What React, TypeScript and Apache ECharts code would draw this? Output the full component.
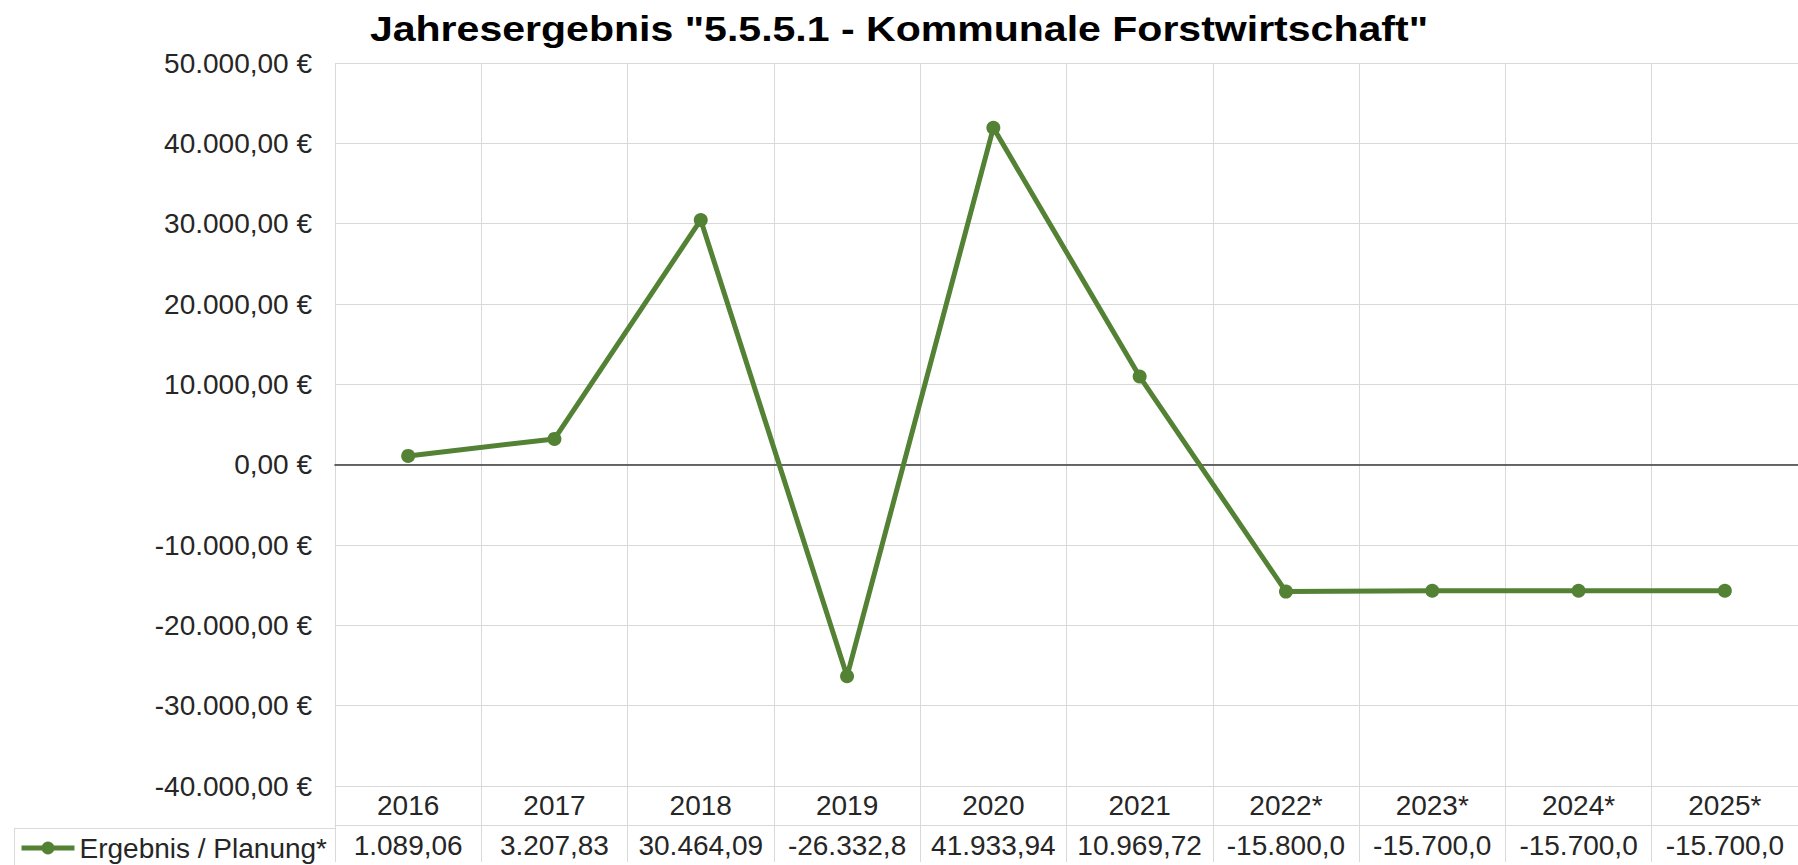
import React, { useEffect, useRef } from 'react';
import * as echarts from 'echarts';

const titleText = 'Jahresergebnis "5.5.5.1 - Kommunale Forstwirtschaft"';
const seriesName = 'Ergebnis / Planung*';
const categories = ['2016', '2017', '2018', '2019', '2020', '2021', '2022*', '2023*', '2024*', '2025*'];
const values = [1089.06, 3207.83, 30464.09, -26332.8, 41933.94, 10969.72, -15800, -15700, -15700, -15700];
const yMin = -40000;
const yMax = 50000;
const yStep = 10000;

const FONT = "'Liberation Sans', Arial, sans-serif";
const GRID = '#d9d9d9';
const GREEN = '#548235';
const TEXT = '#262626';

function fmtDE(v: number, digits = 2): string {
  const neg = v < 0;
  const s = Math.abs(v).toFixed(digits);
  const parts = s.split('.');
  const intG = parts[0].replace(/\B(?=(\d{3})+(?!\d))/g, '.');
  return (neg ? '-' : '') + intG + (parts[1] ? ',' + parts[1] : '');
}

function buildOption(): any {
  return {
    animation: false,
    textStyle: { fontFamily: FONT },
    grid: { left: 335, right: 0, top: 63, bottom: 76, containLabel: false },
    legend: {
      show: true,
      left: 19,
      top: 833,
      padding: 0,
      itemWidth: 53,
      itemHeight: 16,
      selectedMode: false,
      data: [seriesName],
      lineStyle: { width: 5, color: GREEN },
      itemStyle: { color: GREEN },
      textStyle: { fontSize: 28, color: TEXT, fontFamily: FONT, lineHeight: 30 },
    },
    xAxis: [
      {
        type: 'category',
        data: categories,
        position: 'bottom',
        boundaryGap: true,
        axisLine: { onZero: false, lineStyle: { color: GRID, width: 1 } },
        axisTick: { show: true, length: 76, interval: 0, inside: false, lineStyle: { color: GRID, width: 1 } },
        axisLabel: { interval: 0, margin: 0, fontSize: 28, color: TEXT, lineHeight: 39, fontFamily: FONT },
        splitLine: { show: true, interval: 0, lineStyle: { color: GRID, width: 1 } },
      },
      {
        type: 'category',
        data: categories,
        position: 'bottom',
        offset: 39,
        axisLine: { onZero: false, lineStyle: { color: GRID, width: 1 } },
        axisTick: { show: false },
        splitLine: { show: false },
        axisLabel: {
          interval: 0,
          margin: 0,
          fontSize: 28,
          color: TEXT,
          fontFamily: FONT,
          lineHeight: 40,
          width: 130,
          overflow: 'truncate',
          ellipsis: '',
          formatter: (_v: string, i: number) => fmtDE(values[i]),
        },
      },
      {
        type: 'category',
        data: categories,
        position: 'bottom',
        axisLine: { onZero: true, lineStyle: { color: '#3a3a3a', width: 1.6 } },
        axisTick: { show: false },
        axisLabel: { show: false },
        splitLine: { show: false },
      },
    ],
    yAxis: {
      type: 'value',
      min: yMin,
      max: yMax,
      interval: yStep,
      axisLine: { show: false },
      axisTick: { show: false },
      splitLine: { show: true, lineStyle: { color: GRID, width: 1 } },
      axisLabel: {
        formatter: (v: number) => fmtDE(v) + ' €',
        fontSize: 28,
        color: TEXT,
        fontFamily: FONT,
        margin: 23,
      },
    },
    series: [
      {
        type: 'line',
        name: seriesName,
        data: values,
        xAxisIndex: 0,
        yAxisIndex: 0,
        symbol: 'circle',
        symbolSize: 14,
        lineStyle: { color: GREEN, width: 5 },
        itemStyle: { color: GREEN },
        z: 5,
      },
    ],
    graphic: [
      {
        type: 'text',
        x: 899,
        y: 28,
        scaleX: 1.14,
        style: {
          text: titleText,
          fontSize: 36,
          fontWeight: 'bold',
          fontFamily: FONT,
          fill: '#000000',
          align: 'center',
          verticalAlign: 'middle',
        },
      },
      {
        type: 'line',
        shape: { x1: 14, y1: 828.5, x2: 335, y2: 828.5 },
        style: { stroke: GRID, lineWidth: 1 },
      },
      {
        type: 'line',
        shape: { x1: 14.5, y1: 828, x2: 14.5, y2: 865 },
        style: { stroke: GRID, lineWidth: 1 },
      },
    ],
  };
}

export default function App() {
  const ref = useRef<HTMLDivElement>(null);
  useEffect(() => {
    if (!ref.current) return;
    const chart = echarts.init(ref.current, null, { renderer: 'svg' });
    chart.setOption(buildOption());
    return () => {
      chart.dispose();
    };
  }, []);
  return (
    <div
      ref={ref}
      style={{ position: 'absolute', left: 0, top: 0, width: 1798, height: 865, background: '#ffffff' }}
    />
  );
}
